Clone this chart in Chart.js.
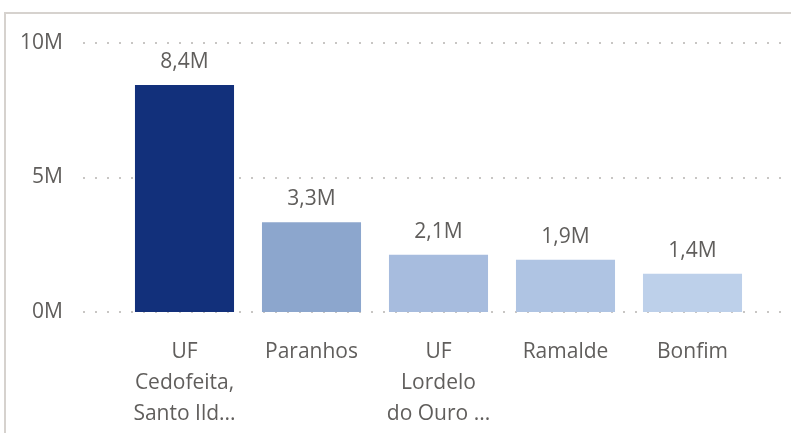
<!DOCTYPE html>
<html>
<head>
<meta charset="utf-8">
<script src="https://cdn.jsdelivr.net/npm/chart.js@4"></script>
<style>
  html, body { margin: 0; padding: 0; background: #fff; }
  #wrap { position: relative; width: 791px; height: 433px; }
  #frame { position: absolute; left: 4px; top: 12px; right: 0; bottom: 0;
           border-top: 2px solid #d6d2ce; border-left: 2px solid #d6d2ce; }
  canvas { position: absolute; left: 0; top: 0; }
</style>
</head>
<body>
<div id="wrap">
  <div id="frame"></div>
  <canvas id="myChart" width="791" height="433"></canvas>
</div>
<script>
var categories = [
  ["UF", "Cedofeita,", "Santo Ild..."],
  "Paranhos",
  ["UF", "Lordelo", "do Ouro ..."],
  "Ramalde",
  "Bonfim"
];
var values = [8.44, 3.34, 2.13, 1.94, 1.42]; // millions
var barColors = ["#12307b", "#8ca6cd", "#a7bcde", "#afc4e3", "#bdd0ea"];
var yTicks = [0, 5, 10];

var textColor = "#605e5c";
var fontFamily = "'Open Sans', sans-serif";
var fontSize = 21;

function fmtM(v) {
  return v.toFixed(1).replace(".", ",") + "M";
}

// dotted horizontal gridlines, running a bit wider than the bars
var dottedGrid = {
  id: "dottedGrid",
  beforeDatasetsDraw: function(chart) {
    var ctx = chart.ctx;
    var area = chart.chartArea;
    var y = chart.scales.y;
    ctx.save();
    ctx.strokeStyle = "#c8c6c4";
    ctx.lineWidth = 2;
    ctx.setLineDash([2, 10]);
    yTicks.forEach(function(t) {
      var py = Math.round(y.getPixelForValue(t));
      ctx.beginPath();
      ctx.moveTo(area.left - 38, py);
      ctx.lineTo(area.right + 26, py);
      ctx.stroke();
    });
    ctx.restore();
  }
};

// value labels above each bar
var barLabels = {
  id: "barLabels",
  afterDatasetsDraw: function(chart) {
    var ctx = chart.ctx;
    var meta = chart.getDatasetMeta(0);
    ctx.save();
    ctx.fillStyle = textColor;
    ctx.font = fontSize + "px " + fontFamily;
    ctx.textAlign = "center";
    ctx.textBaseline = "middle";
    meta.data.forEach(function(bar, i) {
      ctx.fillText(fmtM(values[i]), bar.x, bar.y - 23);
    });
    ctx.restore();
  }
};

var ctx = document.getElementById("myChart").getContext("2d");
var myChart = new Chart(ctx, {
  type: "bar",
  data: {
    labels: categories,
    datasets: [{
      data: values,
      backgroundColor: barColors,
      barPercentage: 0.78,
      categoryPercentage: 1
    }]
  },
  options: {
    responsive: false,
    animation: false,
    layout: { padding: { top: 43, right: 35, left: 0, bottom: 0 } },
    plugins: {
      legend: { display: false },
      tooltip: { enabled: false }
    },
    scales: {
      x: {
        grid: { display: false, drawTicks: false },
        border: { display: false },
        ticks: {
          color: textColor,
          font: { family: fontFamily, size: fontSize, lineHeight: 1.48 },
          padding: 24,
          maxRotation: 0,
          autoSkip: false
        },
        afterFit: function(scale) { scale.height = 121; }
      },
      y: {
        min: 0,
        max: 10,
        afterBuildTicks: function(scale) {
          scale.ticks = yTicks.map(function(v) { return { value: v }; });
        },
        grid: { display: false, drawTicks: false },
        border: { display: false },
        ticks: {
          color: textColor,
          font: { family: fontFamily, size: fontSize },
          padding: 58,
          callback: function(v) { return v + "M"; }
        },
        afterFit: function(scale) {
          // the big label gap shouldn't push the plot down
          scale.width = 121;
          scale.paddingTop = 0;
          scale.paddingBottom = 0;
        }
      }
    }
  },
  plugins: [dottedGrid, barLabels]
});
</script>
</body>
</html>
